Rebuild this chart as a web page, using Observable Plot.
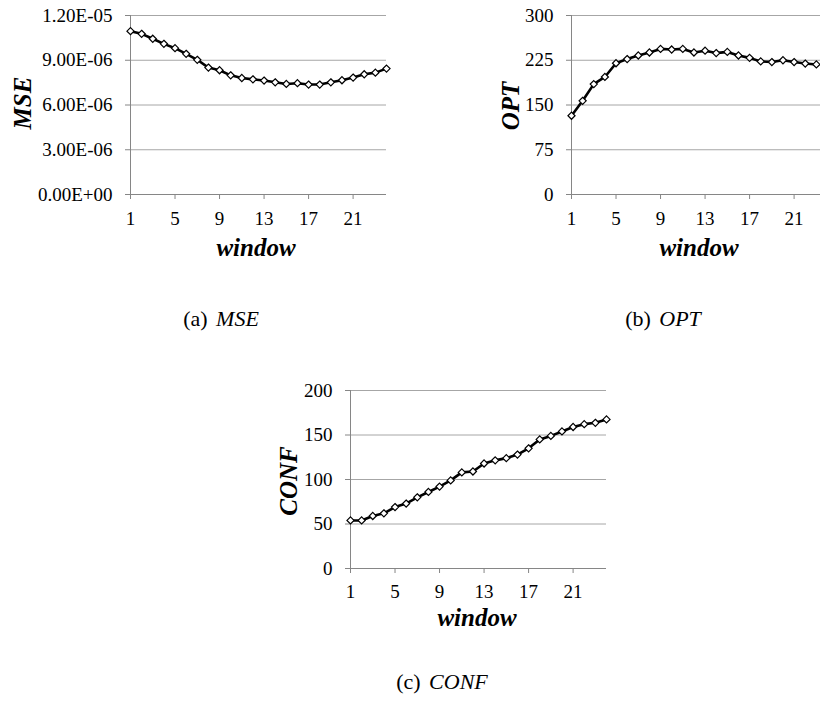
<!DOCTYPE html>
<html>
<head>
<meta charset="utf-8">
<script src="https://cdn.jsdelivr.net/npm/d3@7"></script>
<script src="https://cdn.jsdelivr.net/npm/@observablehq/plot@0.6"></script>
<style>
  html, body { margin: 0; padding: 0; background: #fff; }
  #page { position: relative; width: 820px; height: 707px; overflow: hidden; background: #fff; font-family: 'Liberation Serif', 'Times New Roman', Times, serif; color: #000; }
  #page svg, #page svg text, #page svg g { font-family: 'Liberation Serif', 'Times New Roman', Times, serif !important; }
  .chart { position: absolute; }
  .title { position: absolute; font-family: 'Liberation Serif', 'Times New Roman', Times, serif; font-weight: bold; font-style: italic; font-size: 25px; line-height: 1; white-space: nowrap; }
  .ytitle { transform: translate(-50%, -50%) rotate(-90deg); }
  .xtitle { transform: translateX(-50%); }
  .caption { position: absolute; font-family: 'Liberation Serif', 'Times New Roman', Times, serif; font-size: 22px; line-height: 1; white-space: nowrap; transform: translateX(-50%); }
  .caption i { margin-left: 3px; }
</style>
</head>
<body>
<div id="page"></div>
<script>
// ---- data ----
const windows = [1,2,3,4,5,6,7,8,9,10,11,12,13,14,15,16,17,18,19,20,21,22,23,24];
const xTicks = [1,5,9,13,17,21];

const mseValues = [10.95e-6,10.77e-6,10.44e-6,10.10e-6,9.81e-6,9.43e-6,9.03e-6,8.51e-6,8.33e-6,7.99e-6,7.81e-6,7.72e-6,7.64e-6,7.52e-6,7.41e-6,7.46e-6,7.37e-6,7.37e-6,7.52e-6,7.66e-6,7.84e-6,8.06e-6,8.17e-6,8.44e-6];
const mseTicks = [0, 3e-6, 6e-6, 9e-6, 1.2e-5];

const optValues = [132,157,185,197,220,227,233,238,244,243,244,238,241,237,239,233,229,223,222,225,222,219.5,218];
const optTicks = [0, 75, 150, 225, 300];

const confValues = [54,54,59,62,69,73,80,86,92,99,108,109,118,121.5,124,128,135,145,149,154,159,162.2,163.7,167.5];
const confTicks = [0, 50, 100, 150, 200];

// ---- helpers ----
function sci(d) {
  const [m, e] = d.toExponential(2).split("e");
  const sign = e[0] === "-" ? "-" : "+";
  const ex = String(Math.abs(+e)).padStart(2, "0");
  return `${m}E${sign}${ex}`;
}

const TICK_FS = 19;

function chart({values, ticks, format, marginBottom, tickPadX}) {
  const data = values.map((v, i) => ({w: windows[i], v}));
  return Plot.plot({
    width: 420,
    height: 270,
    marginLeft: 130,
    marginRight: 34,
    marginTop: 15,
    marginBottom,
    style: {background: "transparent", overflow: "visible", color: "#000"},
    x: {domain: [windows[0], windows[windows.length - 1]]},
    y: {domain: [ticks[0], ticks[ticks.length - 1]]},
    marks: [
      Plot.ruleY(ticks.slice(1), {stroke: "#a6a6a6", strokeWidth: 1}),
      Plot.ruleY([ticks[0]], {stroke: "#868686", strokeWidth: 1}),
      Plot.ruleX([windows[0]], {stroke: "#868686", strokeWidth: 1}),
      Plot.axisY(ticks, {tickSize: 5, tickPadding: 13, tickFormat: format, stroke: "#868686", fill: "#000", label: null, fontSize: TICK_FS}),
      Plot.axisX(xTicks, {tickSize: 5, tickPadding: tickPadX, stroke: "#868686", fill: "#000", label: null, fontSize: TICK_FS}),
      Plot.line(data, {x: "w", y: "v", stroke: "#000", strokeWidth: 2.6}),
      Plot.dot(data, {x: "w", y: "v", symbol: "diamond2", r: 3.2, fill: "#fff", stroke: "#000", strokeWidth: 1.2})
    ]
  });
}

const page = document.getElementById("page");
function place(el, left, top) {
  el.classList.add("chart");
  el.style.left = left + "px";
  el.style.top = top + "px";
  page.appendChild(el);
}

place(chart({values: mseValues, ticks: mseTicks, format: sci, marginBottom: 76, tickPadX: 12}), 0, 0);
place(chart({values: optValues, ticks: optTicks, format: d => String(d), marginBottom: 76, tickPadX: 12}), 441, 0);
place(chart({values: confValues, ticks: confTicks, format: d => String(d), marginBottom: 77, tickPadX: 11}), 220, 375);

function addText(cls, html, x, y) {
  const d = document.createElement("div");
  d.className = cls;
  d.innerHTML = html;
  d.style.left = x + "px";
  d.style.top = y + "px";
  page.appendChild(d);
  return d;
}
// axis titles
addText("title ytitle", "MSE", 22, 103);
addText("title ytitle", "OPT", 510, 106);
addText("title ytitle", "CONF", 288, 481);
const fsT = 25;
addText("title xtitle", "window", 256, 256 - 0.8375 * fsT);
addText("title xtitle", "window", 699, 256 - 0.8375 * fsT);
addText("title xtitle", "window", 477, 626 - 0.8375 * fsT);
// captions
const fsC = 22;
addText("caption", "(a) <i>MSE</i>", 221, 326 - 0.8375 * fsC);
addText("caption", "(b) <i>OPT</i>", 663, 326 - 0.8375 * fsC);
addText("caption", "(c) <i>CONF</i>", 442, 689 - 0.8375 * fsC);
</script>
</body>
</html>
